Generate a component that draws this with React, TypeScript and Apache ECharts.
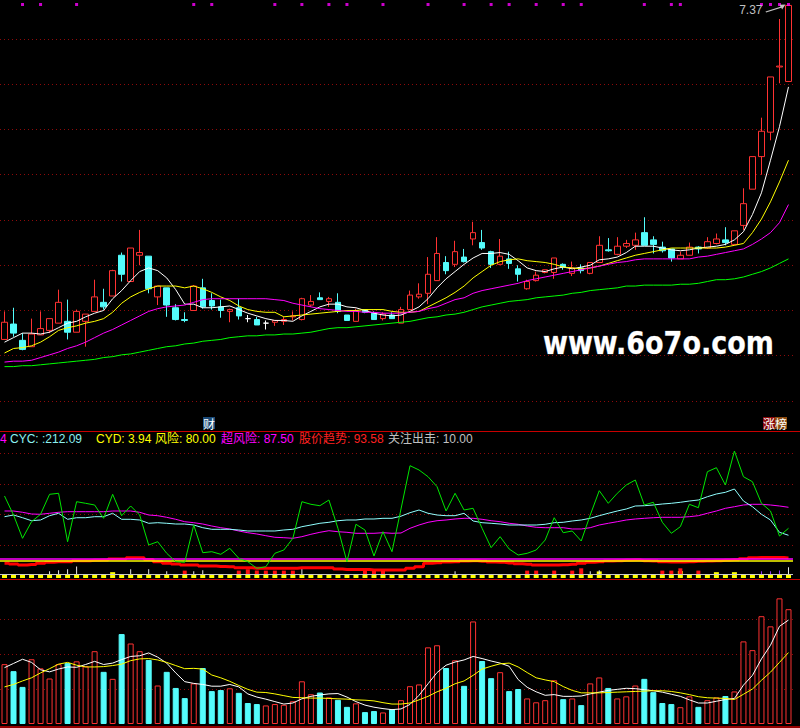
import React, { useEffect, useRef } from 'react';
import * as echarts from 'echarts';

// ---- daily prices ----
const opens = [3.68,3.85,3.67,3.60,3.73,3.78,3.86,3.88,3.76,3.88,
3.99,4.09,4.16,4.61,4.32,4.61,4.60,4.15,4.25,4.03,
3.90,4.00,4.25,4.11,4.04,3.99,4.03,3.91,3.90,3.86,
3.87,3.88,3.93,3.90,4.06,4.14,4.10,4.09,3.95,3.88,
4.01,3.97,3.91,3.95,3.86,4.01,4.15,4.19,4.33,4.53,
4.51,4.59,4.79,4.75,4.65,4.51,4.57,4.46,4.24,4.33,
4.42,4.42,4.51,4.41,4.47,4.41,4.53,4.67,4.62,4.71,
4.72,4.86,4.78,4.70,4.68,4.57,4.61,4.70,4.69,4.74,
4.78,4.73,4.94,5.34,5.70,5.97,6.69,6.53];
const closes = [3.87,3.75,3.57,3.74,3.80,3.91,4.09,3.76,3.99,3.96,
4.15,4.04,4.44,4.40,4.69,4.64,4.24,4.27,4.06,3.90,
3.89,4.27,4.04,4.05,4.00,4.01,3.94,3.91,3.84,3.86,
3.89,3.90,3.94,4.13,4.10,4.12,4.13,3.99,3.89,4.00,
3.98,3.90,3.96,3.91,4.01,4.17,4.18,4.40,4.63,4.44,
4.65,4.54,4.86,4.69,4.51,4.60,4.52,4.40,4.32,4.39,
4.45,4.58,4.48,4.47,4.44,4.53,4.72,4.66,4.71,4.74,
4.78,4.72,4.73,4.66,4.58,4.61,4.70,4.68,4.76,4.79,
4.75,4.88,5.18,5.70,5.98,6.58,6.70,7.37];
const lows = [3.68,3.71,3.56,3.60,3.73,3.75,3.86,3.68,3.76,3.60,
3.99,4.01,4.16,4.32,4.32,4.50,4.19,4.06,3.93,3.89,
3.87,4.00,4.02,4.01,3.92,3.87,3.90,3.87,3.84,3.79,
3.83,3.84,3.89,3.89,4.04,4.12,4.04,3.97,3.89,3.88,
3.97,3.90,3.89,3.91,3.86,4.01,4.13,4.07,4.33,4.40,
4.48,4.53,4.72,4.67,4.47,4.50,4.46,4.32,4.23,4.32,
4.41,4.35,4.45,4.38,4.41,4.40,4.53,4.65,4.61,4.69,
4.67,4.72,4.63,4.64,4.54,4.57,4.61,4.63,4.68,4.73,
4.72,4.72,4.89,5.34,5.50,5.88,6.51,6.53];
const highs = [3.99,4.03,3.75,3.91,3.99,3.91,4.23,4.12,4.01,3.96,
4.34,4.24,4.45,4.64,4.69,4.89,4.60,4.27,4.25,4.07,
3.98,4.28,4.35,4.19,4.12,4.02,4.13,3.95,3.93,3.89,
3.89,3.93,3.99,4.14,4.17,4.20,4.15,4.19,3.95,4.02,
4.01,3.99,3.98,3.98,4.04,4.22,4.30,4.59,4.81,4.60,
4.77,4.68,4.98,4.89,4.66,4.79,4.65,4.50,4.34,4.43,
4.45,4.58,4.52,4.54,4.51,4.53,4.82,4.80,4.81,4.78,
4.86,5.03,4.82,4.76,4.68,4.65,4.75,4.71,4.81,4.85,
4.92,4.88,5.35,5.70,6.13,6.58,7.22,7.37];

// ---- moving averages of close ----
const ma5 = [3.65,3.70,3.75,3.75,3.74,3.76,3.81,3.86,3.88,3.93,
3.97,4.00,4.13,4.22,4.33,4.43,4.47,4.44,4.36,4.23,
4.07,4.07,4.03,4.03,4.04,4.05,4.01,3.97,3.94,3.91,
3.89,3.89,3.88,3.94,3.99,4.04,4.07,4.07,4.04,4.03,
4.00,3.97,3.95,3.94,3.95,3.99,4.04,4.13,4.25,4.35,
4.43,4.51,4.58,4.63,4.63,4.64,4.62,4.55,4.47,4.44,
4.43,4.46,4.48,4.46,4.48,4.50,4.56,4.57,4.59,4.64,
4.71,4.71,4.71,4.69,4.67,4.66,4.67,4.69,4.70,4.71,
4.73,4.78,4.87,5.06,5.30,5.66,6.03,6.47];
const ma10 = [3.53,3.58,3.59,3.61,3.65,3.71,3.78,3.81,3.83,3.86,
3.88,3.91,3.98,4.08,4.15,4.20,4.24,4.27,4.27,4.27,
4.25,4.27,4.24,4.20,4.15,4.11,4.05,4.01,3.99,3.98,
3.98,3.93,3.94,3.95,3.96,3.97,3.98,3.99,4.00,4.00,
4.01,4.01,4.01,3.99,3.98,3.98,3.99,4.04,4.09,4.14,
4.20,4.27,4.36,4.43,4.50,4.54,4.56,4.57,4.55,4.54,
4.53,4.51,4.48,4.47,4.46,4.47,4.49,4.52,4.55,4.58,
4.61,4.63,4.65,4.67,4.69,4.69,4.69,4.69,4.69,4.69,
4.70,4.72,4.74,4.86,5.01,5.20,5.42,5.66];
const ma20 = [3.43,3.44,3.44,3.45,3.48,3.51,3.54,3.58,3.61,3.65,
3.70,3.75,3.79,3.84,3.89,3.94,3.99,4.02,4.04,4.05,
4.06,4.09,4.12,4.13,4.13,4.13,4.13,4.13,4.13,4.13,
4.12,4.11,4.08,4.06,4.04,4.02,4.01,4.00,3.99,3.99,
3.98,3.98,3.97,3.97,3.97,3.98,3.99,4.02,4.04,4.08,
4.12,4.14,4.19,4.22,4.24,4.26,4.28,4.30,4.33,4.35,
4.37,4.39,4.41,4.43,4.45,4.47,4.49,4.51,4.53,4.54,
4.56,4.57,4.57,4.57,4.57,4.57,4.57,4.59,4.60,4.62,
4.64,4.66,4.68,4.73,4.79,4.86,4.97,5.17];
const ma60 = [3.38,3.38,3.39,3.39,3.40,3.41,3.42,3.43,3.44,3.45,
3.46,3.48,3.49,3.51,3.52,3.54,3.56,3.58,3.60,3.61,
3.63,3.64,3.66,3.67,3.68,3.70,3.71,3.72,3.72,3.73,
3.73,3.74,3.74,3.75,3.76,3.78,3.80,3.81,3.81,3.82,
3.83,3.84,3.85,3.86,3.87,3.88,3.90,3.92,3.93,3.95,
3.96,3.98,4.01,4.04,4.06,4.08,4.10,4.11,4.12,4.14,
4.15,4.16,4.17,4.19,4.20,4.22,4.23,4.24,4.25,4.27,
4.27,4.28,4.28,4.28,4.28,4.29,4.29,4.30,4.32,4.34,
4.34,4.35,4.37,4.40,4.43,4.47,4.52,4.57];

// ---- volume (10k lots) and its averages ----
const volumes = [17.1,15.1,10.6,18.5,15.9,13.0,17.1,17.4,17.9,16.5,
20.8,14.9,12.9,25.7,23.0,20.8,18.3,11.0,14.9,10.3,
7.4,11.6,16.0,9.4,9.7,10.2,8.9,6.0,5.7,5.3,
5.7,5.5,6.5,12.2,8.5,9.0,7.6,6.9,4.9,5.9,
3.4,3.7,3.3,4.2,6.8,10.8,11.3,21.9,22.5,16.0,
18.2,10.9,29.3,18.0,13.1,14.8,9.4,10.0,7.3,6.2,
6.8,12.5,7.1,7.3,5.4,11.6,13.3,10.3,7.3,7.9,
11.0,12.9,9.1,6.0,5.7,4.8,7.9,4.9,6.8,7.6,
8.0,9.3,23.6,21.1,30.8,27.9,35.9,32.8];
const volMa5 = [16.1,17.3,18.5,17.6,15.5,14.9,15.7,16.3,16.2,17.0,
17.9,17.0,17.4,18.4,19.3,19.5,20.3,19.1,17.4,14.6,
12.1,11.6,11.3,10.8,10.8,11.3,10.6,8.6,7.7,7.1,
6.4,5.7,6.0,7.2,7.9,8.3,8.6,8.7,7.7,6.4,
5.4,4.8,4.4,4.1,4.3,5.6,8.2,11.5,14.7,16.8,
17.7,18.3,19.3,18.7,18.0,17.4,16.5,12.7,10.5,9.2,
8.2,8.4,7.9,7.9,8.0,8.6,9.1,9.6,9.9,10.2,
10.1,9.8,9.5,9.1,8.5,7.9,6.9,6.0,6.0,6.5,
7.0,7.3,11.1,13.9,18.6,22.5,27.9,29.7];
const volMa10 = [10.6,11.3,12.3,13.2,14.6,15.8,17.1,17.6,16.8,16.3,
16.3,16.4,16.7,17.1,18.1,18.6,18.7,18.3,17.6,16.7,
15.8,15.9,15.7,14.0,13.2,12.2,11.0,9.9,9.1,9.0,
8.6,8.1,7.6,7.5,7.4,7.4,7.3,7.2,7.1,6.9,
6.8,6.6,6.1,5.7,5.7,6.0,6.9,7.9,9.2,10.2,
11.5,12.3,13.9,15.7,16.5,17.2,17.4,16.3,14.7,13.2,
12.6,12.1,10.7,9.6,8.9,8.9,8.9,9.0,9.1,9.2,
9.3,9.4,9.5,9.5,9.3,8.9,8.4,7.8,7.5,7.4,
7.3,7.0,8.5,10.0,12.5,14.8,17.6,20.4];

// ---- lower indicator ----
const cycValues = [308.9,317.7,303.6,288.0,291.7,314.1,326.6,295.3,303.6,303.6,
308.9,308.9,326.6,295.3,295.3,291.7,274.5,277.6,274.5,270.8,
270.8,265.6,251.6,243.2,243.2,243.2,239.6,234.4,234.4,234.4,
234.4,239.6,243.2,256.8,265.6,274.5,279.7,288.0,291.7,291.7,
296.9,296.9,300.5,300.5,311.5,329.7,343.7,326.6,317.7,314.1,
314.1,326.6,286.5,277.6,274.5,270.8,265.6,265.6,265.6,265.6,
269.3,277.6,279.7,286.5,291.7,300.5,314.1,326.6,338.5,349.0,
364.6,366.1,369.8,375.0,378.6,383.9,390.6,395.8,413.0,427.1,
435.9,453.1,390.6,360.9,321.4,291.7,227.6,212.09];
const fastSwing = [416.7,317.7,196.4,282.8,321.4,425.5,430.7,178.6,387.0,378.6,
369.8,300.5,425.5,314.1,364.6,317.7,161.5,178.6,118.2,74.5,
71.4,265.6,121.4,126.6,113.0,144.3,92.2,74.5,40.1,48.4,
118.2,135.4,196.4,387.0,373.4,366.1,395.8,248.4,74.5,269.3,
239.6,104.2,230.7,126.6,349.0,574.5,552.1,517.2,465.1,338.5,
430.7,343.7,352.6,248.4,147.4,204.7,140.6,109.4,118.2,135.4,
187.5,303.6,225.5,234.4,182.3,317.7,444.3,378.6,430.7,474.0,
500.0,369.8,383.9,279.7,222.4,256.8,373.4,355.7,543.2,564.1,
474.0,651.0,517.2,491.1,378.6,338.5,208.3,248.4];
const slowSwing = [338.5,338.5,331.8,322.9,321.4,326.6,331.8,334.9,334.9,334.9,
334.9,334.9,338.5,338.5,338.5,331.8,317.7,314.1,305.7,295.3,
282.8,277.6,270.8,260.4,251.6,244.8,234.4,225.5,218.8,209.9,
201.6,199.5,196.4,204.7,217.2,227.6,235.9,230.7,227.6,222.4,
222.4,222.4,225.5,222.4,224.0,248.4,265.6,279.7,288.0,291.7,
296.9,300.5,300.5,295.3,288.0,282.8,274.5,269.3,260.4,253.6,
251.6,251.6,251.6,244.8,244.8,251.6,265.6,274.5,282.8,291.7,
296.9,300.5,303.6,305.7,305.7,305.7,308.9,314.1,326.6,338.5,
352.6,360.9,369.8,373.4,373.4,369.8,364.6,357.84];
const trendValues = [66,62,57,60,66,71,74,74,80,80,
82,83,89,89,95,95,86,74,66,62,
57,57,52,52,50,48,43,43,40,40,
40,40,40,43,43,43,43,36,34,34,
34,31,31,31,31,40,48,66,69,73,
74,78,80,77,73,71,68,64,61,57,
57,57,59,61,66,71,74,78,80,82,
83,80,78,74,73,73,74,77,78,80,
82,85,90,95,96,97,96,93.58];
const cydValues = [4,4,4,4,4,4,4,4,4,4,
4,4,20,4,4,4,4,4,4,4,
4,4,4,4,4,4,4,4,4,4,
4,4,4,4,4,4,4,4,4,4,
4,4,4,4,4,4,4,4,4,4,
4,4,4,4,4,4,4,4,4,4,
4,4,4,4,4,4,24,4,4,4,
4,4,4,4,4,26,4,4,4,20,
4,20,4,4,4,4,4,3.94];
const riskLevel = 80;
const superRiskLevel = 87.5;
const watchLevel = 10;

// [day, top value] of the short signal sticks above the watch line
const whiteSticks = [[5,25],[6,30],[7,35],[8,50],[14,35],[16,35],[18,25],[21,25],[22,30],[33,35],[50,25],[65,25],[66,30],[87,45]];
const redBlocks = [[20,28],[26,28],[27,35],[28,28],[29,28],[30,28],[31,28],[32,28],[40,28],[41,28],[42,28],[58,28],[59,28],[61,28],[63,28],[64,40],[73,28],[74,28],[75,40],[77,28]];
const violetSticks = [[84,25],[85,25],[86,28]];

// days with a buy-attention flag along the top edge
const signalDays = [2,4,8,21,23,30,33,36,38,42,47,51,54,56,59,62,64,71,74,75,84,85,86,87];

const days = opens.map((_, i) => String(i + 1));

const RED = '#FF3232';
const CYAN = '#54FCFC';
const GRID_RED = '#8E0A0A';
const FONT = '"Liberation Sans", "Noto Sans CJK SC", sans-serif';

function last(a: number[]) {
  return a[a.length - 1];
}

function stickSeries(data: number[][], color: string, width: number) {
  return {
    type: 'custom',
    xAxisIndex: 1,
    yAxisIndex: 1,
    data,
    z: 4,
    silent: true,
    renderItem: (_p: any, api: any) => {
      const base = api.coord([api.value(0), watchLevel]);
      const top = api.coord([api.value(0), api.value(1)]);
      return {
        type: 'rect',
        shape: { x: base[0] - width / 2, y: top[1], width, height: base[1] - top[1] },
        style: { fill: color },
      };
    },
  };
}

export default function App() {
  const ref = useRef<HTMLDivElement>(null);

  useEffect(() => {
    if (!ref.current) return;
    const chart = echarts.init(ref.current, undefined, { renderer: 'svg' });

    const candleData = opens.map((o, i) => {
      const v = [o, closes[i], lows[i], highs[i]];
      if (o === closes[i]) {
        return {
          value: v,
          itemStyle: { color: '#FFFFFF', color0: '#FFFFFF', borderColor: '#FFFFFF', borderColor0: '#FFFFFF' },
        };
      }
      return v;
    });

    const volData = volumes.map((v, i) => {
      const up = closes[i] > opens[i] || (closes[i] === opens[i] && (i === 0 || closes[i] >= closes[i - 1]));
      return {
        value: v,
        itemStyle: up
          ? { color: '#000000', borderColor: RED, borderWidth: 1 }
          : { color: CYAN, borderColor: CYAN, borderWidth: 1 },
      };
    });

    const hiddenAxisParts = {
      axisLine: { show: false },
      axisTick: { show: false },
      axisLabel: { show: false },
    };
    const dotted = { color: GRID_RED, width: 1, type: [1, 3] as number[] };

    const gridLeft = -1;
    const gridWidth = 794;

    const option: any = {
      animation: false,
      backgroundColor: '#000000',
      textStyle: { fontFamily: FONT },
      grid: [
        { left: gridLeft, width: gridWidth, top: 0, height: 401 },
        { left: gridLeft, width: gridWidth, top: 432, height: 144 },
        { left: gridLeft, width: gridWidth, top: 584, height: 140 },
      ],
      xAxis: [0, 1, 2].map((g) => ({
        type: 'category',
        gridIndex: g,
        data: days,
        boundaryGap: true,
        show: false,
      })),
      yAxis: [
        {
          gridIndex: 0, type: 'value', min: 3.0, max: 7.43, interval: 0.5,
          ...hiddenAxisParts,
          splitLine: { show: true, lineStyle: dotted, showMinLine: true, showMaxLine: false },
        },
        {
          gridIndex: 1, type: 'value', min: 0, max: 750, interval: 160,
          ...hiddenAxisParts,
          splitLine: { show: true, lineStyle: dotted, showMinLine: false, showMaxLine: false },
        },
        {
          gridIndex: 2, type: 'value', min: 0, max: 40, interval: 10,
          ...hiddenAxisParts,
          splitLine: { show: true, lineStyle: dotted, showMinLine: false, showMaxLine: false },
        },
      ],
      series: [
        {
          type: 'candlestick',
          xAxisIndex: 0,
          yAxisIndex: 0,
          data: candleData,
          barWidth: 6,
          itemStyle: {
            color: '#000000',
            color0: CYAN,
            borderColor: RED,
            borderColor0: CYAN,
            borderWidth: 1,
          },
          markPoint: {
            silent: true,
            symbol: 'path://M0,9 L15,4.2 L14,2.4 L20,2 L16.6,7 L15.8,5.4 L0.6,10 Z',
            symbolSize: [20, 8],
            symbolOffset: [-13, 3],
            itemStyle: { color: '#C0C0C0' },
            label: {
              show: true,
              position: 'left',
              distance: 3,
              color: '#C0C0C0',
              fontSize: 12,
              fontFamily: FONT,
              offset: [0, 2],
              formatter: (p: any) => Number(p.value).toFixed(2),
            },
            data: [{ type: 'max', valueDim: 'highest' }],
          },
        },
        { type: 'line', xAxisIndex: 0, yAxisIndex: 0, data: ma5, showSymbol: false, lineStyle: { color: '#FFFFFF', width: 1 } },
        { type: 'line', xAxisIndex: 0, yAxisIndex: 0, data: ma10, showSymbol: false, lineStyle: { color: '#FFFF00', width: 1 } },
        { type: 'line', xAxisIndex: 0, yAxisIndex: 0, data: ma20, showSymbol: false, lineStyle: { color: '#FF00FF', width: 1 } },
        { type: 'line', xAxisIndex: 0, yAxisIndex: 0, data: ma60, showSymbol: false, lineStyle: { color: '#00FF00', width: 1 } },
        {
          type: 'scatter',
          xAxisIndex: 0,
          yAxisIndex: 0,
          data: signalDays.map((d) => [d, 7.43]),
          symbol: 'rect',
          symbolSize: [3, 3],
          symbolOffset: [0, 4.5],
          clip: false,
          itemStyle: { color: '#FF00FF' },
        },
        // lower indicator
        {
          type: 'line', xAxisIndex: 1, yAxisIndex: 1, data: [], showSymbol: false,
          markLine: {
            silent: true,
            symbol: 'none',
            label: { show: false },
            data: [
              { yAxis: superRiskLevel, lineStyle: { color: '#FF00FF', width: 1.5, type: 'solid' } },
              { yAxis: riskLevel, lineStyle: { color: '#FFFF00', width: 1.5, type: 'solid' } },
              { yAxis: watchLevel, lineStyle: { color: '#C8C8C8', width: 1, type: 'solid' } },
            ],
          },
          z: 2,
        },
        {
          type: 'line', xAxisIndex: 1, yAxisIndex: 1, data: trendValues, showSymbol: false, step: 'middle',
          lineStyle: { color: '#FF0000', width: 3 },
          z: 3,
        },
        {
          type: 'custom',
          xAxisIndex: 1,
          yAxisIndex: 1,
          data: cydValues.map((v, i) => [i, v]),
          z: 4,
          silent: true,
          renderItem: (_p: any, api: any) => {
            const zero = api.coord([api.value(0), 0]);
            const top = api.coord([api.value(0), api.value(1)]);
            const bottom = zero[1] + 2;
            const h = Math.max(3, bottom - top[1]);
            return {
              type: 'rect',
              shape: { x: zero[0] - 2.5, y: bottom - h, width: 5, height: h },
              style: { fill: '#FFFF00' },
            };
          },
        },
        stickSeries(whiteSticks, '#E8E8E8', 1),
        stickSeries(redBlocks, '#FF1010', 4),
        stickSeries(violetSticks, '#9A3CFF', 1),
        { type: 'line', xAxisIndex: 1, yAxisIndex: 1, data: slowSwing, showSymbol: false, lineStyle: { color: '#FF00FF', width: 1 }, z: 5 },
        { type: 'line', xAxisIndex: 1, yAxisIndex: 1, data: cycValues, showSymbol: false, lineStyle: { color: '#90FFFF', width: 1 }, z: 5 },
        { type: 'line', xAxisIndex: 1, yAxisIndex: 1, data: fastSwing, showSymbol: false, lineStyle: { color: '#00E600', width: 1 }, z: 5 },
        // volume
        { type: 'bar', xAxisIndex: 2, yAxisIndex: 2, data: volData, barWidth: 6 },
        { type: 'line', xAxisIndex: 2, yAxisIndex: 2, data: volMa5, showSymbol: false, lineStyle: { color: '#FFFFFF', width: 1 } },
        { type: 'line', xAxisIndex: 2, yAxisIndex: 2, data: volMa10, showSymbol: false, lineStyle: { color: '#FFFF00', width: 1 } },
      ],
      graphic: [
        // panel separators
        { type: 'line', shape: { x1: 0, y1: 431.5, x2: 800, y2: 431.5 }, style: { stroke: '#C80000', lineWidth: 1 }, silent: true },
        { type: 'line', shape: { x1: 0, y1: 579.5, x2: 800, y2: 579.5 }, style: { stroke: '#C80000', lineWidth: 1 }, silent: true },
        { type: 'line', shape: { x1: 0, y1: 727, x2: 800, y2: 727 }, style: { stroke: '#C80000', lineWidth: 1.5 }, silent: true },
        // watermark
        {
          type: 'text', x: 543, y: 343, scaleY: 1.15, silent: true,
          style: {
            text: 'www.6o7o.com', fill: '#FFFFFF', font: 'bold 27px "DejaVu Sans", sans-serif',
            verticalAlign: 'middle', stroke: '#777777', lineWidth: 0.6,
          },
        },
        // event tags
        {
          type: 'text', left: 203, top: 417, silent: true,
          style: { text: '财', fill: '#FFFFFF', font: '12px "Noto Sans CJK SC", sans-serif', backgroundColor: '#1B4A78', padding: [0, 0] },
        },
        {
          type: 'text', left: 763, top: 417, silent: true,
          style: { text: '涨', fill: '#FFFFFF', font: '12px "Noto Sans CJK SC", sans-serif', backgroundColor: '#8A0A0A', padding: [0, 0] },
        },
        {
          type: 'text', left: 775, top: 417, silent: true,
          style: { text: '榜', fill: '#FFFFFF', font: '12px "Noto Sans CJK SC", sans-serif', backgroundColor: '#8A4A10', padding: [0, 0] },
        },
        // indicator legend
        { type: 'text', left: 0, top: 433, silent: true, style: { text: '4', fill: '#FF00FF', font: '12px ' + FONT } },
        { type: 'text', left: 10, top: 433, silent: true, style: { text: 'CYC: :' + last(cycValues).toFixed(2), fill: '#8CF0F0', font: '12px ' + FONT } },
        { type: 'text', left: 96, top: 433, silent: true, style: { text: 'CYD: ' + last(cydValues).toFixed(2), fill: '#FFFF00', font: '12px ' + FONT } },
        { type: 'text', left: 155, top: 433, silent: true, style: { text: '风险: ' + riskLevel.toFixed(2), fill: '#FFFF00', font: '12px ' + FONT } },
        { type: 'text', left: 221, top: 433, silent: true, style: { text: '超风险: ' + superRiskLevel.toFixed(2), fill: '#FF00FF', font: '12px ' + FONT } },
        { type: 'text', left: 299, top: 433, silent: true, style: { text: '股价趋势: ' + last(trendValues).toFixed(2), fill: '#FF2020', font: '12px ' + FONT } },
        { type: 'text', left: 388, top: 433, silent: true, style: { text: '关注出击: ' + watchLevel.toFixed(2), fill: '#C0C0C0', font: '12px ' + FONT } },
      ],
    };

    chart.setOption(option);
    return () => chart.dispose();
  }, []);

  return (
    <div
      ref={ref}
      style={{ position: 'fixed', left: 0, top: 0, width: 800, height: 728, background: '#000' }}
    />
  );
}
